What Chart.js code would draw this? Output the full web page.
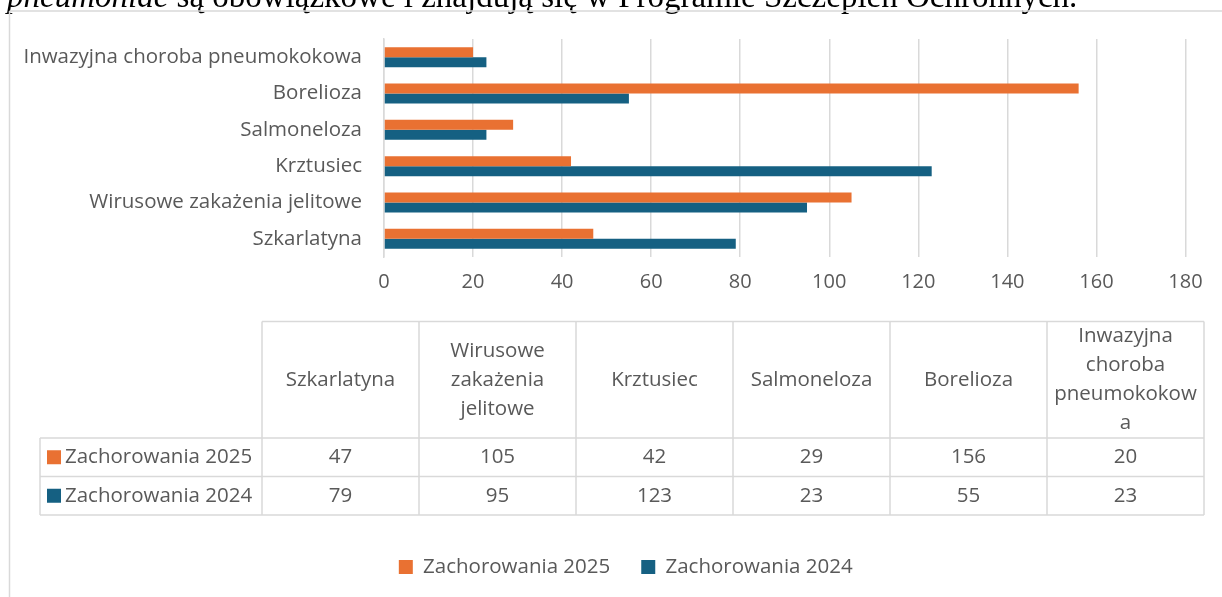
<!DOCTYPE html>
<html lang="pl">
<head>
<meta charset="utf-8">
<script src="https://cdn.jsdelivr.net/npm/chart.js@4.4.1/dist/chart.umd.min.js"></script>
<style>
  html, body { margin:0; padding:0; background:#fff; }
  #wrap { position:relative; width:1222px; height:597px; }
</style>
</head>
<body>
<div id="wrap"><canvas id="wykres" width="1222" height="597"></canvas></div>
<script>
// Dane - kolejność jak w tabeli pod wykresem
const kategorie = ['Szkarlatyna', 'Wirusowe zakażenia jelitowe', 'Krztusiec', 'Salmoneloza', 'Borelioza', 'Inwazyjna choroba pneumokokowa'];
const zach2025 = [47, 105, 42, 29, 156, 20];
const zach2024 = [79, 95, 123, 23, 55, 23];
const nazwySerii = ['Zachorowania 2025', 'Zachorowania 2024'];
const osX = [0, 20, 40, 60, 80, 100, 120, 140, 160, 180];

const kolor2025 = '#E97132';
const kolor2024 = '#156082';
const kolorTekst = '#595959';
const kolorSiatka = '#D9D9D9';
const FONT = "'Open Sans', sans-serif";
const ROZMIAR = 20.5;

// Łamanie tekstu w komórce nagłówka (jak w Excelu - dzieli też długie słowa)
function zawijaj(ctx, tekst, maxW){
  const linie = [];
  let cur = '';
  tekst.split(' ').forEach(s => {
    const test = cur ? cur + ' ' + s : s;
    if(ctx.measureText(test).width <= maxW){ cur = test; return; }
    if(cur) linie.push(cur);
    cur = '';
    for(const ch of s){
      if(cur && ctx.measureText(cur + ch).width > maxW){ linie.push(cur); cur = ch; }
      else cur += ch;
    }
  });
  if(cur) linie.push(cur);
  return linie;
}

function linia(ctx, x1, y1, x2, y2){
  ctx.beginPath(); ctx.moveTo(x1, y1); ctx.lineTo(x2, y2); ctx.stroke();
}

// Ramka + ucięty tekst dokumentu nad wykresem
const ramkaPlugin = {
  id: 'ramka',
  afterLayout(chart){
    // legenda wyśrodkowana względem całej (szerszej) ramki wykresu
    chart.legend.left += 33;
    chart.legend.right += 33;
  },
  beforeDraw(chart){
    const ctx = chart.ctx;
    ctx.save();
    ctx.fillStyle = '#000';
    ctx.textBaseline = 'alphabetic';
    ctx.font = "italic 33px 'Liberation Serif', serif";
    const kursywa = 'pneumoniae';
    ctx.fillText(kursywa, 7, 7);
    const w = ctx.measureText(kursywa).width;
    ctx.font = "33px 'Liberation Serif', serif";
    ctx.fillText(' są obowiązkowe i znajdują się w Programie Szczepień Ochronnych.', 7 + w, 7);
    ctx.strokeStyle = kolorSiatka;
    ctx.lineWidth = 1.5;
    linia(ctx, 9.5, 11, 1222, 11);
    linia(ctx, 9.5, 11, 9.5, 597);
    ctx.restore();
  }
};

// Tabela danych pod osią X
const tabelaPlugin = {
  id: 'tabela',
  afterDraw(chart){
    const ctx = chart.ctx;
    const xL = 40, x0 = 262, kw = 157, n = kategorie.length;
    const yTop = 321.5, yH = 438, yR1 = 476.5, yR2 = 515;
    const xR = x0 + n * kw;
    ctx.save();
    ctx.strokeStyle = kolorSiatka;
    ctx.lineWidth = 1.5;
    linia(ctx, x0, yTop, xR, yTop);
    [yH, yR1, yR2].forEach(y => linia(ctx, xL, y, xR, y));
    linia(ctx, xL, yH, xL, yR2);
    for(let i = 0; i <= n; i++) linia(ctx, x0 + i * kw, yTop, x0 + i * kw, yR2);

    ctx.fillStyle = kolorTekst;
    ctx.font = ROZMIAR + 'px ' + FONT;
    ctx.textAlign = 'center';
    ctx.textBaseline = 'middle';
    const lh = 29;
    kategorie.forEach((k, i) => {
      const linie = zawijaj(ctx, k, kw - 12);
      const cx = x0 + i * kw + kw / 2;
      const start = (yTop + yH) / 2 - (linie.length - 1) * lh / 2;
      linie.forEach((l, j) => ctx.fillText(l, cx, start + j * lh));
    });

    const wiersze = [zach2025, zach2024];
    const kolory = [kolor2025, kolor2024];
    const srodki = [(yH + yR1) / 2, (yR1 + yR2) / 2];
    wiersze.forEach((dane, r) => {
      const cy = srodki[r];
      ctx.fillStyle = kolory[r];
      ctx.fillRect(47, cy - 7, 14, 14);
      ctx.fillStyle = kolorTekst;
      ctx.textAlign = 'left';
      ctx.fillText(nazwySerii[r], 65, cy);
      ctx.textAlign = 'center';
      dane.forEach((v, i) => ctx.fillText(String(v), x0 + i * kw + kw / 2, cy));
    });
    ctx.restore();
  }
};

new Chart(document.getElementById('wykres'), {
  type: 'bar',
  data: {
    labels: kategorie,
    datasets: [
      { label: nazwySerii[0], data: zach2025, backgroundColor: kolor2025 },
      { label: nazwySerii[1], data: zach2024, backgroundColor: kolor2024 }
    ]
  },
  options: {
    indexAxis: 'y',
    responsive: false,
    animation: false,
    devicePixelRatio: 1,
    categoryPercentage: 0.55,
    barPercentage: 1,
    layout: { padding: { top: 39, right: 36.5, left: 0, bottom: 9.75 } },
    scales: {
      x: {
        min: 0, max: 180,
        afterBuildTicks: s => { s.ticks = osX.map(v => ({ value: v })); },
        afterFit: s => { s.height = 268.75; },
        grid: { color: kolorSiatka, lineWidth: 1.5, drawTicks: false },
        border: { display: false },
        ticks: { color: kolorTekst, font: { family: FONT, size: 20 }, padding: 13 }
      },
      y: {
        reverse: true,
        afterFit: s => { s.width = 384; },
        grid: { display: false, drawTicks: false },
        border: { color: kolorSiatka, width: 1.5 },
        ticks: { color: kolorTekst, font: { family: FONT, size: ROZMIAR }, padding: 22 }
      }
    },
    plugins: {
      legend: {
        position: 'bottom',
        labels: { color: kolorTekst, font: { family: FONT, size: ROZMIAR }, boxWidth: 14, boxHeight: 14, padding: 31 }
      },
      tooltip: { enabled: false }
    }
  },
  plugins: [ramkaPlugin, tabelaPlugin]
});
</script>
</body>
</html>
